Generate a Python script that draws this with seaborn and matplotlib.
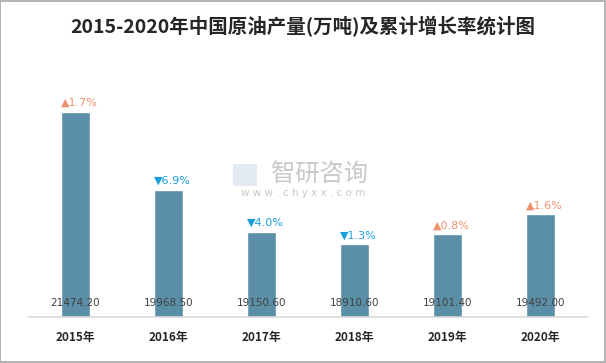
import matplotlib
matplotlib.use("Agg")
import matplotlib.pyplot as plt
import seaborn as sns
import pandas as pd
from matplotlib.patches import Rectangle

years = ["2015年", "2016年", "2017年", "2018年", "2019年", "2020年"]
production = [21474.20, 19968.50, 19150.60, 18910.60, 19101.40, 19492.00]
growth = [1.7, -6.9, -4.0, -1.3, 0.8, 1.6]
title = "2015-2020年中国原油产量(万吨)及累计增长率统计图"

sns.set_theme(style="white")
plt.rcParams['font.family'] = ['Noto Sans CJK SC', 'DejaVu Sans']

df = pd.DataFrame({"year": years, "value": production})

fig = plt.figure(figsize=(6.06, 3.63), dpi=100)
ax = fig.add_axes([29/606, 46/363, 558/606, 232/363])

sns.barplot(data=df, x="year", y="value", color="#5B8FA8", saturation=1,
            width=0.31, ax=ax)
ax.set_ylim(17500, 22000)
ax.set_xlim(-0.5, len(years) - 0.5)
ax.set_xlabel("")
ax.set_ylabel("")
ax.set_yticks([])
for s in ["top", "right", "left"]:
    ax.spines[s].set_visible(False)
ax.spines["bottom"].set_color("#D9D9D9")
ax.spines["bottom"].set_linewidth(1.2)
ax.tick_params(axis="x", length=0, pad=10)
for lab in ax.get_xticklabels():
    lab.set_fontweight("bold")
    lab.set_fontsize(8.5)
    lab.set_color("#262626")

for i, (v, g) in enumerate(zip(production, growth)):
    ax.annotate(f"{v:.2f}", xy=(i, 0), xycoords=("data", "axes fraction"),
                xytext=(0, 14), textcoords="offset pixels",
                ha="center", va="center", fontsize=7.5, color="#404040",
                family=["DejaVu Sans"])
    up = g >= 0
    sym = "▲" if up else "▼"
    col = "#F0906F" if up else "#1A9FDD"
    ax.annotate(f"{sym}{abs(g):.1f}%", xy=(i, v), xycoords="data",
                xytext=(4, 9), textcoords="offset pixels",
                ha="center", va="center", fontsize=8, color=col,
                family=["DejaVu Sans"])

fig.text(0.5, 1 - 27/363, title, ha="center", va="center", fontsize=14,
         fontweight="bold", color="#262626")

# watermark
fig.text(319/606, 1 - 175/363, "智研咨询", ha="center", va="center",
         fontsize=17.5, color="#C9C9C9")
fig.text(303/606, 1 - 193/363, "w w w . c h y x x . c o m", ha="center",
         va="center", fontsize=7.5, color="#C9C9C9", family=["DejaVu Sans"])
fig.patches.append(Rectangle((233/606, 1 - 186/363), 24/606, 22/363,
                             transform=fig.transFigure, facecolor="#E3EAF2",
                             edgecolor="none", zorder=0))

fig.patches.append(Rectangle((0.0008, 0.0014), 0.998, 0.997,
                             transform=fig.transFigure, fill=False,
                             edgecolor="#A6A6A6", linewidth=1.2))

fig.savefig("out.png", dpi=100)
